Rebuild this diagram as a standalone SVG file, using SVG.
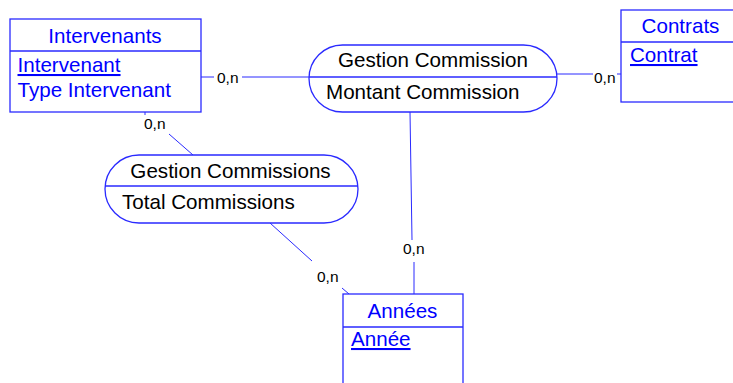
<svg xmlns="http://www.w3.org/2000/svg" width="733" height="383" viewBox="0 0 733 383">
<style>
.box{fill:#fff;stroke:#2a2aff;stroke-width:1.3}
.sep{stroke:#2a2aff;stroke-width:1.3}
.ent{font-family:"Liberation Sans",Arial,sans-serif;font-size:20.6px;fill:#0000ff}
.ul{text-decoration:underline}
.asc{font-family:"Liberation Sans",Arial,sans-serif;font-size:20.6px;fill:#000}
.lbl{font-family:"Liberation Sans",Arial,sans-serif;font-size:15.5px;fill:#000}
.cn{stroke:#2a2aff;stroke-width:1;fill:none}
</style>
<rect width="733" height="383" fill="#fff"/>
<g id="connectors">
<line class="cn" x1="201" y1="77" x2="214" y2="77"/>
<line class="cn" x1="242" y1="77" x2="309" y2="77"/>
<line class="cn" x1="557" y1="74" x2="593" y2="74"/>
<line class="cn" x1="617" y1="74" x2="621" y2="74"/>
<line class="cn" x1="145" y1="112" x2="145" y2="115"/>
<line class="cn" x1="169" y1="134" x2="193" y2="155"/>
<line class="cn" x1="270" y1="223" x2="312" y2="261"/>
<line class="cn" x1="342" y1="288" x2="349" y2="294"/>
<line class="cn" x1="410" y1="112" x2="412" y2="240"/>
<line class="cn" x1="414" y1="262" x2="414" y2="294"/>
<text class="lbl" x="217" y="83">0,n</text>
<text class="lbl" x="594" y="83">0,n</text>
<text class="lbl" x="144" y="129">0,n</text>
<text class="lbl" x="317" y="282">0,n</text>
<text class="lbl" x="403" y="254">0,n</text>
</g>
<g id="Intervenants">
<rect class="box" x="10" y="19" width="191" height="93"/>
<line class="sep" x1="10" y1="51" x2="201" y2="51"/>
<text class="ent" x="105" y="43" text-anchor="middle">Intervenants</text>
<text class="ent ul" x="17.5" y="72">Intervenant</text>
<text class="ent" x="17.5" y="97">Type Intervenant</text>
</g>
<g id="Contrats">
<rect class="box" x="621" y="10" width="125" height="92"/>
<line class="sep" x1="621" y1="42" x2="746" y2="42"/>
<text class="ent" x="680.5" y="32.5" text-anchor="middle">Contrats</text>
<text class="ent ul" x="630" y="62">Contrat</text>
</g>
<g id="Annees">
<rect class="box" x="343" y="294" width="120" height="100"/>
<line class="sep" x1="343" y1="327" x2="463" y2="327"/>
<text class="ent" x="402.5" y="318" text-anchor="middle">Années</text>
<text class="ent ul" x="351" y="346">Année</text>
</g>
<g id="GestionCommission">
<rect class="box" x="309" y="45" width="248" height="67" rx="33.5"/>
<line class="sep" x1="309" y1="77" x2="557" y2="77"/>
<text class="asc" x="433" y="67" text-anchor="middle">Gestion Commission</text>
<text class="asc" x="326" y="99">Montant Commission</text>
</g>
<g id="GestionCommissions">
<rect class="box" x="105" y="155" width="253" height="68" rx="34"/>
<line class="sep" x1="105" y1="186" x2="358" y2="186"/>
<text class="asc" x="230.5" y="178" text-anchor="middle">Gestion Commissions</text>
<text class="asc" x="122" y="209">Total Commissions</text>
</g>
</svg>
